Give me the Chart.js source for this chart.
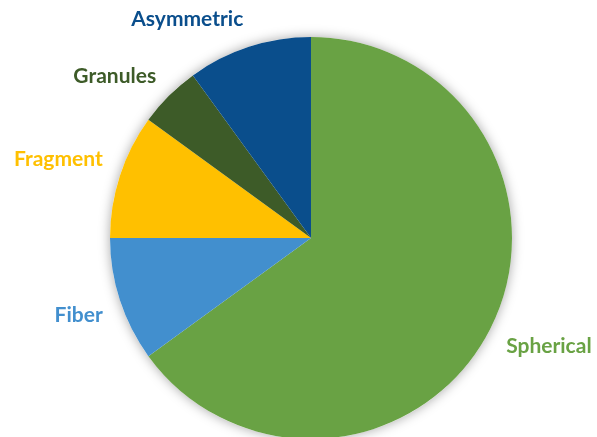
<!DOCTYPE html>
<html>
<head>
<meta charset="utf-8">
<title>Particle shapes</title>
<script src="https://cdn.jsdelivr.net/npm/chart.js@4/dist/chart.umd.min.js"></script>
<style>
  html, body { margin: 0; padding: 0; background: #fff; overflow: hidden; }
  canvas { display: block; }
</style>
</head>
<body>
<canvas id="shape-chart" width="597" height="440"></canvas>
<script>
// Shape categories, drawn clockwise from 12 o'clock
const shapes = ['Spherical', 'Fiber', 'Fragment', 'Granules', 'Asymmetric'];
const shares = [65, 10, 10, 5, 10];
const sliceColors = ['#69A244', '#428FCE', '#FFC000', '#3D5B28', '#0A4E8C'];

const labelFont = 'bold 21px Lato';
const labelGap = 18;

// Soft shadow behind the whole pie, drawn once so slices don't shade each other
const pieShadow = {
  id: 'pieShadow',
  beforeDatasetsDraw(chart) {
    const arc = chart.getDatasetMeta(0).data[0];
    if (!arc) return;
    const ctx = chart.ctx;
    ctx.save();
    ctx.shadowColor = 'rgba(0, 0, 0, 0.35)';
    ctx.shadowBlur = 12;
    ctx.fillStyle = '#fff';
    ctx.beginPath();
    ctx.arc(arc.x, arc.y, arc.outerRadius, 0, Math.PI * 2);
    ctx.fill();
    ctx.restore();
  }
};

// Category names outside each slice; the corner of the text nearest the pie
// sits on a ring just outside the slice's mid angle
const outsideLabels = {
  id: 'outsideLabels',
  afterDatasetsDraw(chart) {
    const ctx = chart.ctx;
    const meta = chart.getDatasetMeta(0);
    ctx.save();
    ctx.font = labelFont;
    ctx.textAlign = 'left';
    ctx.textBaseline = 'alphabetic';
    meta.data.forEach((arc, i) => {
      const mid = (arc.startAngle + arc.endAngle) / 2;
      const dist = arc.outerRadius + labelGap;
      const px = arc.x + Math.cos(mid) * dist;
      const py = arc.y + Math.sin(mid) * dist;
      const text = shapes[i];
      const m = ctx.measureText(text);
      const asc = m.actualBoundingBoxAscent;
      const desc = m.actualBoundingBoxDescent;
      const x = Math.cos(mid) < 0 ? px - m.width : px;
      const y = Math.sin(mid) < 0 ? py - desc : py + asc;
      ctx.fillStyle = sliceColors[i];
      ctx.fillText(text, x, y);
    });
    ctx.restore();
  }
};

new Chart(document.getElementById('shape-chart'), {
  type: 'pie',
  data: {
    labels: shapes,
    datasets: [{
      data: shares,
      backgroundColor: sliceColors,
      borderWidth: 0
    }]
  },
  options: {
    responsive: false,
    animation: false,
    devicePixelRatio: 1,
    layout: { padding: { top: 37, bottom: 1, left: 110, right: 85 } },
    plugins: {
      legend: { display: false },
      tooltip: { enabled: false }
    }
  },
  plugins: [pieShadow, outsideLabels]
});
</script>
</body>
</html>
